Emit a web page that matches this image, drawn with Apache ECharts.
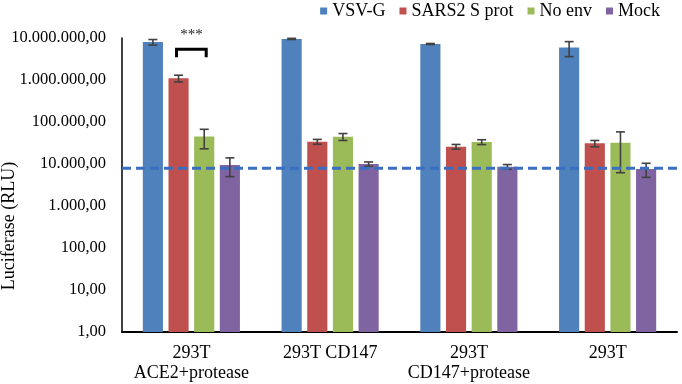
<!DOCTYPE html>
<html>
<head>
<meta charset="utf-8">
<script src="https://cdn.jsdelivr.net/npm/echarts@6/dist/echarts.min.js"></script>
<style>
html,body{margin:0;padding:0;background:#fff;}
#chart{width:682px;height:384px;}
</style>
</head>
<body>
<div id="chart"></div>
<script>
const categories = ['293T\nACE2+protease', '293T CD147', '293T\nCD147+protease', '293T'];
const seriesNames = ['VSV-G', 'SARS2 S prot', 'No env', 'Mock'];
const vsvG = [8.0e6, 9.5e6, 7.2e6, 5.9e6];
const vsvGErr = [1.2e6, 0.3e6, 0.2e6, 2.3e6];
const sars2 = [1.1e6, 34000, 25900, 31000];
const sars2Err = [0.2e6, 4500, 3300, 5300];
const noEnv = [45000, 44700, 33400, 32200];
const noEnvErr = [22000, 8400, 4400, 26000];
const mock = [9500, 10000, 8600, 7600];
const mockErr = [4500, 1200, 1100, 2800];
const cutoff = 7900;
const yTickLabels = ['1,00', '10,00', '100,00', '1.000,00', '10.000,00', '100.000,00', '1.000.000,00', '10.000.000,00'];
const bracketTop = 5.4e6;
const bracketBottom = 3.5e6;
const sigText = '***';

const colors = ['#4F81BD', '#C0504D', '#9BBB59', '#8064A2'];
const values = [vsvG, sars2, noEnv, mock];
const errors = [vsvGErr, sars2Err, noEnvErr, mockErr];
const BAR_GAP = 0.275;
const CAT_GAP = 0.30;
const N = 4;
const FONT = '"Liberation Serif", "Times New Roman", serif';

function barOffset(bandWidth, i) {
  const bw = (bandWidth - bandWidth * CAT_GAP) / (N + (N - 1) * BAR_GAP);
  const total = N * bw + (N - 1) * bw * BAR_GAP;
  return -total / 2 + i * bw * (1 + BAR_GAP) + bw / 2;
}

const series = [];
seriesNames.forEach((name, i) => {
  series.push({
    name: name,
    type: 'bar',
    data: values[i],
    itemStyle: { color: colors[i] },
    barGap: (BAR_GAP * 100) + '%',
    barCategoryGap: (CAT_GAP * 100) + '%'
  });
});
seriesNames.forEach((name, i) => {
  series.push({
    type: 'custom',
    name: name + ' err',
    silent: true,
    z: 5,
    data: values[i].map((v, k) => [k, v, errors[i][k]]),
    renderItem: function (params, api) {
      const k = api.value(0), v = api.value(1), e = api.value(2);
      const band = api.size([1, 1])[0];
      const c = api.coord([k, v]);
      const x = c[0] + barOffset(band, i);
      const yHi = api.coord([k, v + e])[1];
      const yLo = api.coord([k, Math.max(v - e, 1)])[1];
      const hw = 4.5;
      const st = { stroke: '#404040', lineWidth: 1.6 };
      return {
        type: 'group',
        children: [
          { type: 'line', shape: { x1: x, y1: yHi, x2: x, y2: yLo }, style: st },
          { type: 'line', shape: { x1: x - hw, y1: yHi, x2: x + hw, y2: yHi }, style: st },
          { type: 'line', shape: { x1: x - hw, y1: yLo, x2: x + hw, y2: yLo }, style: st }
        ]
      };
    }
  });
});

const chart = echarts.init(document.getElementById('chart'), null, { renderer: 'canvas' });
chart.setOption({
  animation: false,
  backgroundColor: '#ffffff',
  textStyle: { fontFamily: FONT },
  grid: { left: 122, right: 5, top: 38, bottom: 52, containLabel: false },
  legend: {
    data: seriesNames,
    right: 22,
    top: 2,
    padding: 0,
    icon: 'rect',
    itemWidth: 7,
    itemHeight: 7,
    itemGap: 14,
    textStyle: { fontFamily: FONT, fontSize: 18, color: '#000' }
  },
  xAxis: {
    type: 'category',
    data: categories,
    axisLine: { lineStyle: { color: '#000', width: 2 } },
    axisTick: { show: false },
    axisLabel: { fontFamily: FONT, fontSize: 18, color: '#000', margin: 11, lineHeight: 20, interval: 0 }
  },
  yAxis: {
    type: 'log',
    logBase: 10,
    min: 1,
    max: 1e7,
    axisLine: { show: true, lineStyle: { color: '#000', width: 1.5 } },
    axisTick: { show: false },
    splitLine: { show: false },
    axisLabel: {
      fontFamily: FONT, fontSize: 16.5, color: '#000', margin: 16,
      formatter: function (val) { return yTickLabels[Math.round(Math.log10(val))]; }
    }
  },
  series: series
});

function drawOverlays() {
  const yCut = chart.convertToPixel({ yAxisIndex: 0 }, cutoff);
  const xLeft = chart.convertToPixel({ xAxisIndex: 0 }, 0);
  const xNext = chart.convertToPixel({ xAxisIndex: 0 }, 1);
  const band = xNext - xLeft;
  const gridLeft = xLeft - band / 2;
  const bx1 = xLeft + barOffset(band, 1) - 2;
  const bx2 = xLeft + barOffset(band, 2) + 2;
  const byTop = chart.convertToPixel({ yAxisIndex: 0 }, bracketTop);
  const byBot = chart.convertToPixel({ yAxisIndex: 0 }, bracketBottom);
  chart.setOption({
    graphic: [
      {
        type: 'line', z: 10,
        shape: { x1: gridLeft, y1: yCut, x2: 682, y2: yCut },
        style: { stroke: '#3A6EC0', lineWidth: 3, lineDash: [9, 5] }
      },
      {
        type: 'polyline', z: 10,
        shape: { points: [[bx1, byBot], [bx1, byTop], [bx2, byTop], [bx2, byBot]] },
        style: { stroke: '#000', lineWidth: 3, fill: null }
      },
      {
        type: 'text', z: 10,
        x: (bx1 + bx2) / 2, y: byTop - 14,
        style: { text: sigText, fontFamily: FONT, fontSize: 15, fill: '#222', align: 'center', verticalAlign: 'middle' }
      },
      {
        type: 'text', z: 10,
        x: 9, y: 226, rotation: Math.PI / 2,
        style: { text: 'Luciferase (RLU)', fontFamily: FONT, fontSize: 18, fill: '#000', align: 'center', verticalAlign: 'middle' }
      }
    ]
  });
}
drawOverlays();
</script>
</body>
</html>
